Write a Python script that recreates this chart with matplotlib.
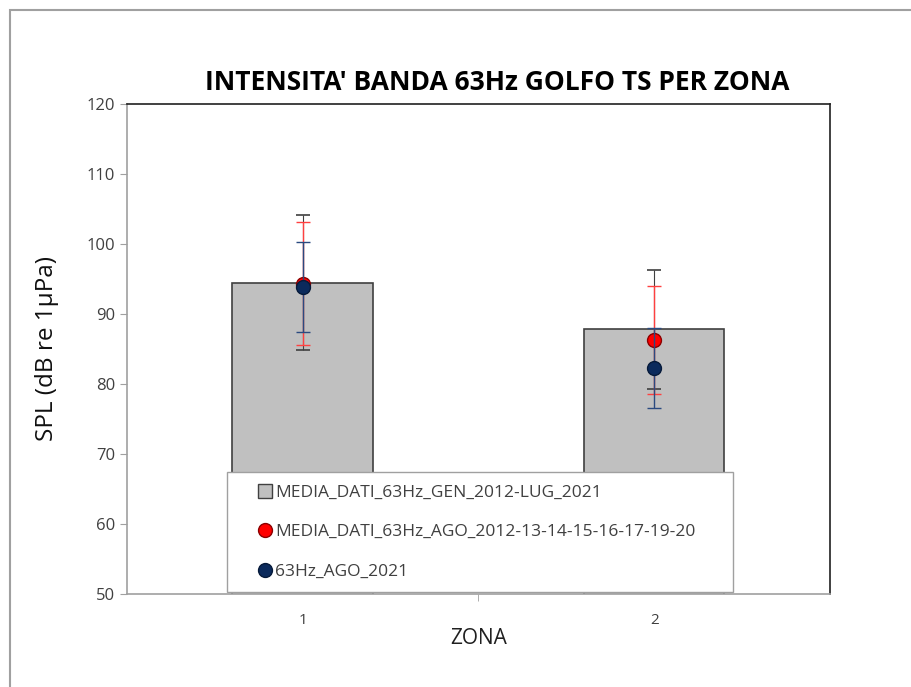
import numpy as np
import matplotlib.pyplot as plt
from matplotlib.patches import Rectangle
from matplotlib.lines import Line2D

zone = [1, 2]
media_all = [94.5, 87.8]
media_all_err = [9.65, 8.55]
media_ago = [94.3, 86.3]
media_ago_err = [8.8, 7.7]
ago_2021 = [93.9, 82.3]
ago_2021_err = [6.45, 5.7]

labels = ['MEDIA_DATI_63Hz_GEN_2012-LUG_2021',
          'MEDIA_DATI_63Hz_AGO_2012-13-14-15-16-17-19-20',
          '63Hz_AGO_2021']

plt.rcParams['font.family'] = ['Open Sans', 'DejaVu Sans']

fig = plt.figure(figsize=(9.11, 6.87), dpi=100)
ax = fig.add_axes([0.1394, 0.1354, 0.7716, 0.7132])

x = np.arange(len(zone))
ax.bar(x, media_all, width=0.4, color='#c0c0c0', edgecolor='#404040',
       linewidth=1.2, zorder=2)
ax.errorbar(x, media_all, yerr=media_all_err, fmt='none', ecolor='#404040',
            elinewidth=0.8, capsize=5, capthick=1.2, zorder=3)
ax.errorbar(x, media_ago, yerr=media_ago_err, fmt='o', color='#ff0000',
            mec='#8b0000', ms=10, ecolor='#ff4040', elinewidth=1,
            capsize=5, capthick=1, zorder=4)
ax.errorbar(x, ago_2021, yerr=ago_2021_err, fmt='o', color='#0b2a5c',
            mec='#061a3a', ms=10, ecolor='#2a4a80', elinewidth=1,
            capsize=5, capthick=1, zorder=5)

ax.set_xlim(-0.5, 1.5)
ax.set_ylim(50, 120)
ax.set_yticks(np.arange(50, 121, 10))
ax.set_xticks(x)
ax.set_xticklabels([str(z) for z in zone])
ax.set_xticks([0.5], minor=True)
ax.tick_params(axis='x', which='major', length=0, pad=14, labelsize=11, labelcolor='#404040')
ax.tick_params(axis='x', which='minor', length=5, color='#a0a0a0')
ax.tick_params(axis='y', length=5, color='#a0a0a0', labelsize=12, labelcolor='#404040')

for s in ['left', 'bottom']:
    ax.spines[s].set_color('#a0a0a0')
    ax.spines[s].set_linewidth(1.2)
for s in ['top', 'right']:
    ax.spines[s].set_color('#202020')
    ax.spines[s].set_linewidth(1.2)

ax.set_title("INTENSITA' BANDA 63Hz GOLFO TS PER ZONA", fontsize=19,
             fontweight='bold', pad=10, x=0.527)
ax.set_ylabel('SPL (dB re 1\u00b5Pa)', fontsize=17.5, color='#101010', labelpad=20,
              fontweight='medium')
ax.set_xlabel('ZONA', fontsize=15, color='#202020', labelpad=0)

handles = [Line2D([], [], marker='s', ls='none', ms=10, mfc='#c0c0c0', mec='#404040'),
           Line2D([], [], marker='o', ls='none', ms=10, mfc='#ff0000', mec='#8b0000'),
           Line2D([], [], marker='o', ls='none', ms=10, mfc='#0b2a5c', mec='#061a3a')]
leg = ax.legend(handles, labels, loc='lower left', bbox_to_anchor=(0.142, 0.004, 0.72, 0.248),
                mode='expand', fontsize=12.5, frameon=True, fancybox=False, framealpha=1,
                handletextpad=-0.9, labelspacing=1.35, borderpad=0.7,
                handlelength=3.0, borderaxespad=0)
leg.get_frame().set_edgecolor('#a0a0a0')
leg.get_frame().set_linewidth(1)
leg.set_zorder(10)
for t in leg.get_texts():
    t.set_color('#404040')

fig.patches.append(Rectangle((0.011, -0.1), 1.2, 1.086, transform=fig.transFigure,
                             fill=False, edgecolor='#a0a0a0', linewidth=1.5))

fig.savefig('out.png', dpi=100)
